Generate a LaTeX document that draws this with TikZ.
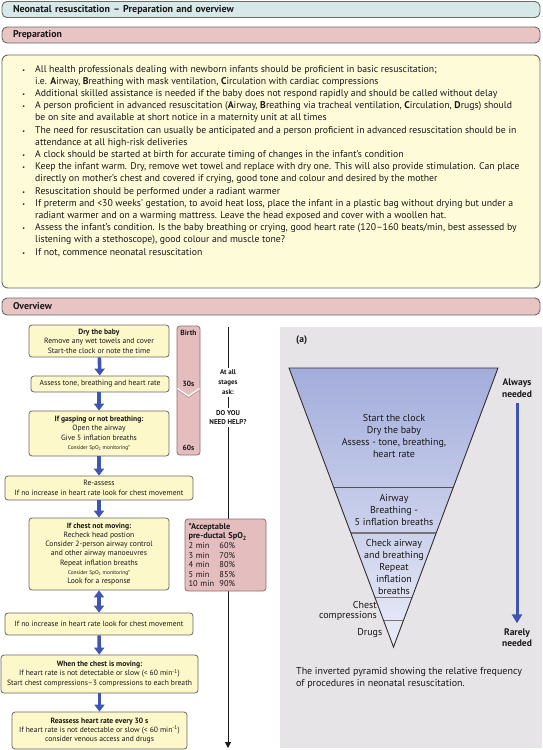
\documentclass[tikz,border=0pt]{standalone}
\usepackage{fontspec}
\setmainfont{PT Sans}
\usetikzlibrary{arrows.meta}
\definecolor{titlefill}{HTML}{D6E8E8}
\definecolor{pinkbar}{HTML}{E9C4C5}
\definecolor{prepfill}{HTML}{FDFBD8}
\definecolor{boxfill}{HTML}{FCF8C9}
\definecolor{edge}{HTML}{6A6A66}
\definecolor{pinkbox}{HTML}{E4BDBF}
\definecolor{pinkedge}{HTML}{946C6E}
\definecolor{arrowblue}{HTML}{3E55B2}
\definecolor{panel}{HTML}{E7E4E8}
\definecolor{pyrtop}{HTML}{A3ADDB}
\definecolor{pyrbot}{HTML}{E9ECF8}
\definecolor{ink}{HTML}{1A1718}
\begin{document}
\begin{tikzpicture}[x=1pt,y=-1pt,
  bar/.style={draw=edge, line width=0.9pt, rounded corners=5pt, minimum width=538pt,
    minimum height=16pt, inner xsep=11pt, inner ysep=0pt, text width=516pt, align=left,
    font=\fontsize{9.8}{11}\selectfont\bfseries, text=ink},
  fbox/.style={draw=edge, fill=boxfill, line width=0.8pt, rounded corners=3pt,
    align=center, inner sep=0pt, font=\fontsize{7.6}{9.4}\selectfont, text=ink},
  pbox/.style={draw=pinkedge, fill=pinkbox, line width=0.8pt, rounded corners=3pt, inner sep=0pt},
  barrow/.style={draw=arrowblue, line width=3.6pt, -{Triangle[width=10pt,length=7pt]}},
  dbarrow/.style={draw=arrowblue, line width=3.6pt, {Triangle[width=10pt,length=7pt]}-{Triangle[width=10pt,length=7pt]}},
  vline/.style={draw=ink, line width=1pt},
  tltext/.style={font=\fontsize{7.5}{9}\selectfont\bfseries, text=ink, inner sep=0pt},
  asktext/.style={font=\fontsize{7}{10}\selectfont\bfseries, text=ink, align=center, inner sep=2pt},
  pyrtext/.style={font=\fontsize{10}{12}\selectfont, text=ink, align=center, inner sep=0pt}
]
\useasboundingbox (0,0) rectangle (542,750);
\fill[white] (0,0) rectangle (542,750);

% header bars
\node[bar, fill=titlefill, font=\fontsize{10}{11}\selectfont\bfseries] (title) at (271,9.5) {Neonatal resuscitation – Preparation and overview};
\node[bar, fill=pinkbar] (prephead) at (271,35) {Preparation};

% preparation box
\node[draw=edge, fill=prepfill, line width=0.9pt, rounded corners=6pt, minimum width=538pt,
  minimum height=233pt, inner sep=0pt] (prepbox) at (271,171.5) {};
\node[anchor=north west, align=left, inner sep=0pt, text=ink,
  font=\fontsize{9.75}{12.2}\selectfont] (preptext) at (35,65) {%
\llap{{\fontsize{6}{6}\selectfont•}\hspace{10pt}}All health professionals dealing with newborn infants should be proficient in basic resuscitation;\\
i.e. \textbf{A}irway, \textbf{B}reathing with mask ventilation, \textbf{C}irculation with cardiac compressions\\
\llap{{\fontsize{6}{6}\selectfont•}\hspace{10pt}}Additional skilled assistance is needed if the baby does not respond rapidly and should be called without delay\\
\llap{{\fontsize{6}{6}\selectfont•}\hspace{10pt}}A person proficient in advanced resuscitation (\textbf{A}irway, \textbf{B}reathing via tracheal ventilation, \textbf{C}irculation, \textbf{D}rugs) should\\
be on site and available at short notice in a maternity unit at all times\\
\llap{{\fontsize{6}{6}\selectfont•}\hspace{10pt}}The need for resuscitation can usually be anticipated and a person proficient in advanced resuscitation should be in\\
attendance at all high-risk deliveries\\
\llap{{\fontsize{6}{6}\selectfont•}\hspace{10pt}}A clock should be started at birth for accurate timing of changes in the infant’s condition\\
\llap{{\fontsize{6}{6}\selectfont•}\hspace{10pt}}Keep the infant warm. Dry, remove wet towel and replace with dry one. This will also provide stimulation. Can place\\
directly on mother’s chest and covered if crying, good tone and colour and desired by the mother\\
\llap{{\fontsize{6}{6}\selectfont•}\hspace{10pt}}Resuscitation should be performed under a radiant warmer\\
\llap{{\fontsize{6}{6}\selectfont•}\hspace{10pt}}If preterm and <30 weeks’ gestation, to avoid heat loss, place the infant in a plastic bag without drying but under a\\
radiant warmer and on a warming mattress. Leave the head exposed and cover with a woollen hat.\\
\llap{{\fontsize{6}{6}\selectfont•}\hspace{10pt}}Assess the infant’s condition. Is the baby breathing or crying, good heart rate (120–160 beats/min, best assessed by\\
listening with a stethoscope), good colour and muscle tone?\\
\llap{{\fontsize{6}{6}\selectfont•}\hspace{10pt}}If not, commence neonatal resuscitation};

\node[bar, fill=pinkbar, minimum height=17pt] (ovhead) at (271,306.5) {Overview};

% right panel
\fill[panel] (280,327) rectangle (542,748);

% flowchart boxes
\node[fbox, minimum width=140pt, minimum height=32pt] (b1) at (99,341)
  {\textbf{Dry the baby}\\Remove any wet towels and cover\\Start-the clock or note the time};
\node[fbox, minimum width=138pt, minimum height=16pt] (b2) at (100,384)
  {Assess tone, breathing and heart rate};
\node[fbox, minimum width=140pt, minimum height=45pt] (b3) at (99,433.5)
  {\textbf{If gasping or not breathing:}\\Open the airway\\Give 5 inflation breaths\\
   {\fontsize{5.4}{6}\selectfont Consider SpO\textsubscript{2} monitoring*}};
\node[fbox, minimum width=188pt, minimum height=24pt] (b4) at (99,488)
  {Re-assess\\If no increase in heart rate look for chest movement};
\node[fbox, minimum width=140pt, minimum height=72pt, font=\fontsize{7.6}{9.2}\selectfont] (b5) at (99,554)
  {\textbf{If chest not moving:}\\Recheck head postion\\Consider 2-person airway control\\
   and other airway manoeuvres\\Repeat inflation breaths\\
   {\fontsize{5.4}{6}\selectfont Consider SpO\textsubscript{2} monitoring*}\\Look for a response};
\node[fbox, minimum width=188pt, minimum height=22pt] (b6) at (99,624)
  {If no increase in heart rate look for chest movement};
\node[fbox, minimum width=197pt, minimum height=38pt] (b7) at (99.5,674)
  {\textbf{When the chest is moving:}\\If heart rate is not detectable or slow (< 60 min\textsuperscript{-1})\\
   Start chest compressions–3 compressions to each breath};
\node[fbox, minimum width=175pt, minimum height=37pt] (b8) at (99.5,730.5)
  {\textbf{Reassess heart rate every 30 s}\\If heart rate is not detectable or slow (< 60 min\textsuperscript{-1})\\
   consider venous access and drugs};

\draw[barrow] (b1) -- (b2);
\draw[barrow] (b2.south -| b1) -- (b3);
\draw[barrow] (b3) -- (b4);
\draw[barrow] (b4) -- (b5);
\draw[dbarrow] (b5) -- (b6);
\draw[barrow] (b6) -- (b7);
\draw[barrow] (b7) -- (b8);

% timeline
\node[pbox, minimum width=23pt, minimum height=129pt] (tl) at (188.5,390.5) {};
\draw[white, line width=1.2pt] (177.5,388.5) -- (188.5,396) -- (199.5,388.5);
\draw[pinkedge!70, line width=0.6pt] (177.5,390) -- (188.5,397.5) -- (199.5,390);
\node[tltext] (birth) at (188.5,333) {Birth};
\node[tltext] (t30) at (188.5,384) {30s};
\node[tltext] (t60) at (188.5,448) {60s};

% help line
\coordinate (ltop) at (228,327);
\coordinate (lbot) at (228,748);
\node[asktext] (ask) at (228,382.5) {At all\\stages\\ask:};
\node[asktext, font=\fontsize{7}{9.5}\selectfont\bfseries] (help) at (228,417.5) {DO YOU\\NEED HELP?};
\draw[vline] (ltop) -- (ask.north);
\draw[vline] (ask.south) -- (help.north);
\draw[vline, -{Triangle[width=6pt,length=6pt]}] (help.south) -- (lbot);

% SpO2 box
\node[pbox, minimum width=81pt, minimum height=72pt, text width=74pt, align=left,
  font=\fontsize{8.4}{9.6}\selectfont, text=ink] (spo) at (225.5,555)
  {\textbf{*Acceptable}\\\textbf{pre-ductal SpO\textsubscript{2}}\\
   \makebox[31pt][l]{2 min}60\%\\\makebox[31pt][l]{3 min}70\%\\\makebox[31pt][l]{4 min}80\%\\
   \makebox[31pt][l]{5 min}85\%\\\makebox[31pt][l]{10 min}90\%};

% pyramid
\node[anchor=west, inner sep=0pt, font=\fontsize{9.5}{10}\selectfont\bfseries, text=ink] (alabel) at (296,340) {(a)};
\coordinate (pTL) at (289,368);
\coordinate (pTR) at (498,368);
\coordinate (pA) at (393.5,647);
\shade[top color=pyrtop, bottom color=pyrbot] (pTL) -- (pTR) -- (pA) -- cycle;
\draw[draw=ink!75, line width=0.8pt] (333.6,487) -- (453.4,487);
\draw[draw=ink!60, line width=2pt] (350.8,533) -- (436.2,533);
\draw[draw=ink!60, line width=0.8pt] (374.8,597) -- (412.2,597);
\draw[draw=ink!60, line width=0.8pt] (383.4,620) -- (403.6,620);
\draw[draw=ink!90, line width=0.9pt, line join=miter] (pTL) -- (pTR) -- (pA) -- cycle;

\node[pyrtext] (p1) at (394,436) {Start the clock\\Dry the baby\\Assess - tone, breathing,\\heart rate};
\node[pyrtext] (p2) at (394,510) {Airway\\Breathing -\\5 inflation breaths};
\node[pyrtext] (p3) at (394,566.5) {Check airway\\and breathing\\Repeat\\inflation\\breaths};
\node[pyrtext, anchor=east, align=right, font=\fontsize{10}{10.5}\selectfont] (p4) at (377,611) {Chest\\compressions};
\node[pyrtext, anchor=east] (p5) at (382.5,633) {Drugs};

\node[pyrtext, font=\fontsize{9.5}{12}\selectfont\bfseries, inner sep=2pt] (always) at (517,388) {Always\\needed};
\node[pyrtext, font=\fontsize{9.5}{11}\selectfont\bfseries, inner sep=2pt] (rarely) at (517,637.5) {Rarely\\needed};
\draw[draw=arrowblue, line width=3pt, -{Triangle[width=10pt,length=9pt]}, shorten <=3pt, shorten >=3pt] (always) -- (rarely);

\node[anchor=north west, align=left, inner sep=0pt, text=ink, font=\fontsize{10}{12}\selectfont] (caption) at (296,667)
  {The inverted pyramid showing the relative frequency\\of procedures in neonatal resuscitation.};
\end{tikzpicture}
\end{document}
